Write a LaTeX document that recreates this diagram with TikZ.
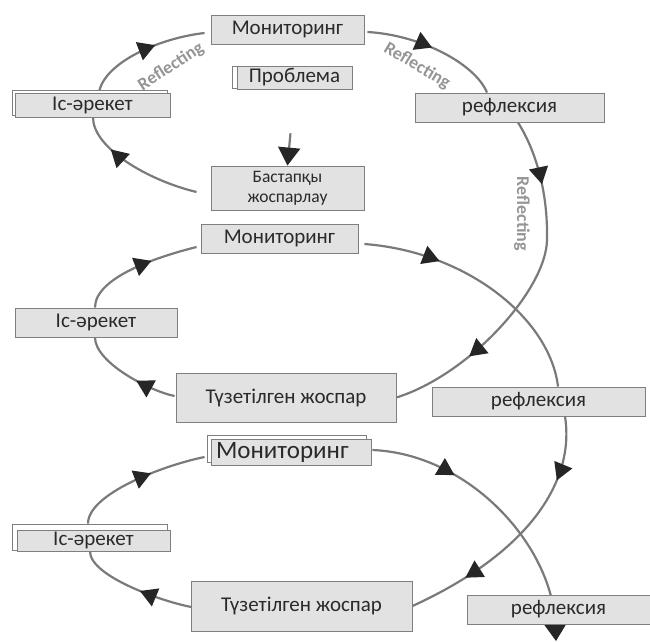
\documentclass[tikz,border=0pt]{standalone}
\usepackage{fontspec}
\setmainfont{Carlito}
\usetikzlibrary{arrows.meta,decorations.markings}
\pgfdeclarelayer{bg}
\pgfsetlayers{bg,main}
\definecolor{boxfill}{HTML}{E2E2E2}
\definecolor{boxline}{HTML}{7F7F7F}
\definecolor{arcc}{HTML}{7A7A7A}
\definecolor{tipc}{HTML}{262626}
\definecolor{txtc}{HTML}{2A2A2A}
\definecolor{lblc}{HTML}{959595}
\tikzset{
  box/.style={draw=boxline, fill=boxfill, line width=0.9pt, inner sep=0pt, text=txtc,
    font=\fontsize{21}{24}\selectfont},
  backbox/.style={draw=boxline, fill=white, line width=0.7pt},
  cyc/.style={draw=arcc, line width=2.2pt},
  tipone/.style={postaction={decorate}, decoration={markings,
    mark=at position #1 with {\arrow{Triangle[length=17pt,width=19pt,color=tipc]}}}},
  tiptwo/.style 2 args={postaction={decorate}, decoration={markings,
    mark=at position #1 with {\arrow{Triangle[length=17pt,width=19pt,color=tipc]}},
    mark=at position #2 with {\arrow{Triangle[length=17pt,width=19pt,color=tipc]}}}},
  reflbl/.style={text=lblc, font=\fontsize{18}{18}\selectfont\bfseries, inner sep=0pt},
}
\begin{document}
\begin{tikzpicture}[x=1pt,y=-1pt]
\useasboundingbox (0,0) rectangle (650,641);

% ---- loop 1 ----
\node[box, minimum width=153pt, minimum height=29pt] (M1) at (287.5,29.5) {Мониторинг};
\draw[backbox] (232,66) rectangle (350,88);
\node[box, minimum width=115pt, minimum height=23pt] (P) at (294.5,77.5) {Проблема};
\node[box, minimum width=153pt, minimum height=44pt, align=center,
      font=\fontsize{17.5}{20}\selectfont] (B1) at (287.5,188) {Бастапқы\\жоспарлау};
\draw[backbox] (12,90) rectangle (167,115);
\node[box, minimum width=155pt, minimum height=24pt] (I1) at (92.5,105) {Іс-әрекет};
\node[box, minimum width=189pt, minimum height=29pt] (R1) at (509.5,107.5) {рефлексия};
\node[reflbl, rotate=33] (L1) at (171,67) {Reflecting};
\node[reflbl, rotate=-31] (L2) at (417,66) {Reflecting};
\node[reflbl, rotate=-90] (L3) at (522,214) {Reflecting};

% ---- loop 2 ----
\node[box, minimum width=157pt, minimum height=29pt] (M2) at (279.5,238.5) {Мониторинг};
\node[box, minimum width=162pt, minimum height=29pt] (I2) at (96,322.5) {Іс-әрекет};
\node[box, minimum width=220pt, minimum height=49pt] (T1) at (286,397.5) {Түзетілген жоспар};
\node[box, minimum width=213pt, minimum height=29pt] (R2) at (538.5,401.5) {рефлексия};

% ---- loop 3 ----
\draw[backbox] (207,435) rectangle (366,462);
\node[box, minimum width=160pt, minimum height=26pt, text width=150pt, align=left,
      font=\fontsize{25}{28}\selectfont] (M3) at (291,452) {Мониторинг};
\draw[backbox] (12,524) rectangle (167,550);
\node[box, minimum width=153pt, minimum height=21pt] (I3) at (93.5,540.5) {Іс-әрекет};
\node[box, minimum width=221pt, minimum height=50pt] (T2) at (301.5,606) {Түзетілген жоспар};
\node[box, minimum width=183pt, minimum height=29pt] (R3) at (558.5,609.5) {рефлексия};
\coordinate (K1) at (547,240);
\coordinate (E3) at (556,641);

\begin{pgfonlayer}{bg}
% loop 1
\draw[cyc, tipone=0.6] ([xshift=6.5pt]I1.north) .. controls +(5,-30) and +(-45,5) .. ([xshift=-6pt,yshift=-3.5pt]M1.west);
\draw[cyc, tipone=0.48] ([xshift=3pt,yshift=-2.5pt]M1.east) .. controls +(53,3) and +(-12,-29) .. ([xshift=-22.5pt]R1.north);
\draw[cyc, tiptwo={0.19}{0.76}] ([xshift=8.5pt]R1.south) .. controls +(17,27) and +(1,-50) .. (K1)
      .. controls +(-1,50) and +(73,-23) .. (T1.east);
\draw[cyc, tipone=0.72] ([xshift=-14pt,yshift=-4pt]B1.west) .. controls +(-50,-12) and +(0,30) .. ([xshift=0.5pt]I1.south);
\draw[cyc, shorten <=44pt, -{Triangle[length=18pt,width=22pt,color=tipc]}] (P.south) -- (B1.north);
% loop 2
\draw[cyc, tipone=0.62] ([xshift=-1pt]I2.north) .. controls +(0,-30) and +(-40,10) .. ([xshift=-4pt,yshift=-8.5pt]M2.west);
\draw[cyc, tipone=0.3] ([xshift=6pt,yshift=-5.5pt]M2.east) .. controls +(104,8) and +(-8,-67) .. ([xshift=19.5pt]R2.north);
\draw[cyc, tiptwo={0.25}{0.77}] ([xshift=26.5pt]R2.south) .. controls +(10,64) and +(118,-54) .. (T2.east);
\draw[cyc, tipone=0.4] ([xshift=-1pt,yshift=1.5pt]T1.west) .. controls +(-25,-5) and +(0,25) .. ([xshift=-1pt]I2.south);
% loop 3
\draw[cyc, tipone=0.6] ([xshift=-5.5pt,yshift=6pt]I3.north) .. controls +(0,-30) and +(-40,8) .. ([xshift=-6pt,yshift=-5pt]M3.west);
\draw[cyc, tipone=0.3, -{Triangle[length=17pt,width=22pt,color=tipc]}] ([xshift=1pt,yshift=2pt]M3.east) .. controls +(97,4) and +(-4,-96) .. (E3);
\draw[cyc, tipone=0.45] ([xshift=1pt,yshift=-1pt]T2.west) .. controls +(-28,-5) and +(0,25) .. ([xshift=-3.5pt]I3.south);
\end{pgfonlayer}
\end{tikzpicture}
\end{document}
